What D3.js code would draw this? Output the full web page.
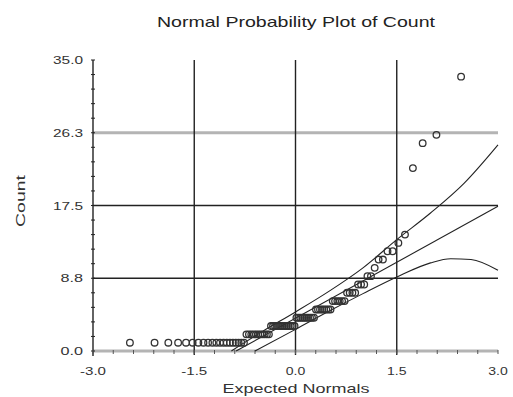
<!DOCTYPE html>
<html>
<head>
<meta charset="utf-8">
<script src="https://cdn.jsdelivr.net/npm/d3@7"></script>
<style>
  html, body { margin: 0; padding: 0; background: #fff; }
  svg { display: block; font-family: "Liberation Sans", Arial, sans-serif; }
</style>
</head>
<body>
<svg id="chart" width="513" height="397"></svg>
<script>
// Normal scores (expected normals) for the sorted sample, and the sorted counts
const expectedNormals = [-2.453,-2.088,-1.884,-1.739,-1.622,-1.524,-1.439,-1.363,-1.295,-1.231,
  -1.173,-1.118,-1.066,-1.018,-0.971,-0.927,-0.884,-0.843,-0.803,-0.764,
  -0.727,-0.690,-0.655,-0.620,-0.586,-0.552,-0.519,-0.487,-0.456,-0.424,
  -0.394,-0.363,-0.333,-0.303,-0.274,-0.244,-0.215,-0.186,-0.157,-0.128,
  -0.100,-0.071,-0.043,-0.014,0.014,0.043,0.071,0.100,0.128,0.157,
  0.186,0.215,0.244,0.274,0.303,0.333,0.363,0.394,0.424,0.456,
  0.487,0.519,0.552,0.586,0.620,0.655,0.690,0.727,0.764,0.803,
  0.843,0.884,0.927,0.971,1.018,1.066,1.118,1.173,1.231,1.295,
  1.363,1.439,1.524,1.622,1.739,1.884,2.088,2.453];
const counts = [1,1,1,1,1,1,1,1,1,1,1,1,1,1,1,1,1,1,1,1,
  2,2,2,2,2,2,2,2,2,2,2,
  3,3,3,3,3,3,3,3,3,3,3,3,3,
  4,4,4,4,4,4,4,4,4,4,
  5,5,5,5,5,5,5,5,
  6,6,6,6,6,6,
  7,7,7,7,
  8,8,8,
  9,9,10,11,11,12,12,13,14,
  22,25,26,33];

// Fitted line and its confidence limits: [expected normal, count]
const fitLine   = [[-0.88, 0], [3.0, 17.4]];
const upperBand = [[-0.95, 0], [-0.5, 2.3], [0, 4.7], [0.5, 7.2], [1.0, 10.0], [1.5, 13.4], [2.0, 16.6], [2.5, 20.2], [3.0, 24.8]];
const lowerBand = [[-0.6, 0], [0, 2.6], [0.5, 4.8], [1.0, 6.9], [1.5, 8.9], [2.0, 10.6], [2.3, 11.1], [2.6, 11.0], [3.0, 9.7]];

// Axis ticks
const xTicks = [-3.0, -1.5, 0.0, 1.5, 3.0];
const xTickLabels = ["-3.0", "-1.5", "0.0", "1.5", "3.0"];
const yTicks = [0, 8.75, 17.5, 26.25, 35];
const yTickLabels = ["0.0", "8.8", "17.5", "26.3", "35.0"];

const svg = d3.select("#chart");
const x = d3.scaleLinear().domain([-3, 3]).range([93, 498]);
const y = d3.scaleLinear().domain([0, 35]).range([351, 60]);
const ink = "#222";

// Reference lines: light band at 26.3 and along the zero baseline
svg.append("line").attr("x1", x(-3)).attr("x2", x(3)).attr("y1", y(26.25)).attr("y2", y(26.25))
  .attr("stroke", "#b4b4b4").attr("stroke-width", 3);
svg.append("line").attr("x1", x(-3)).attr("x2", x(3)).attr("y1", y(0)).attr("y2", y(0))
  .attr("stroke", "#b4b4b4").attr("stroke-width", 3);

// Dark grid lines
svg.selectAll("line.hgrid").data([8.75, 17.5]).join("line").attr("class", "hgrid")
  .attr("x1", x(-3)).attr("x2", x(3)).attr("y1", d => y(d)).attr("y2", d => y(d))
  .attr("stroke", ink).attr("stroke-width", 1.4);
svg.selectAll("line.vgrid").data([-1.5, 0, 1.5]).join("line").attr("class", "vgrid")
  .attr("x1", d => x(d)).attr("x2", d => x(d)).attr("y1", y(35)).attr("y2", y(0) + 4)
  .attr("stroke", ink).attr("stroke-width", 1.4);

// Y axis with minor ticks every 1.75
svg.append("line").attr("x1", x(-3)).attr("x2", x(-3)).attr("y1", y(35)).attr("y2", y(0) + 5)
  .attr("stroke", ink).attr("stroke-width", 1.4);
svg.selectAll("line.ytick").data(d3.range(0, 35.01, 1.75)).join("line").attr("class", "ytick")
  .attr("x1", x(-3) - 2).attr("x2", x(-3) + 2).attr("y1", d => y(d)).attr("y2", d => y(d))
  .attr("stroke", ink).attr("stroke-width", 1);
// X axis minor ticks every 0.3
svg.selectAll("line.xtick").data(d3.range(-3, 3.001, 0.3)).join("line").attr("class", "xtick")
  .attr("x1", d => x(d)).attr("x2", d => x(d)).attr("y1", y(0) - 1).attr("y2", y(0) + 3)
  .attr("stroke", "#555").attr("stroke-width", 1);

// Tick labels
svg.selectAll("text.ylab").data(yTicks).join("text").attr("class", "ylab")
  .attr("x", 83).attr("y", d => y(d) + 4).attr("text-anchor", "end")
  .attr("font-size", 11).attr("fill", "#333")
  .attr("textLength", (d, i) => yTickLabels[i].length * 7.5).attr("lengthAdjust", "spacingAndGlyphs")
  .text((d, i) => yTickLabels[i]);
svg.selectAll("text.xlab").data(xTicks).join("text").attr("class", "xlab")
  .attr("x", d => x(d)).attr("y", 375).attr("text-anchor", "middle")
  .attr("font-size", 11).attr("fill", "#333")
  .attr("textLength", (d, i) => xTickLabels[i].length * 6.5).attr("lengthAdjust", "spacingAndGlyphs")
  .text((d, i) => xTickLabels[i]);

// Titles
svg.append("text").attr("x", 296).attr("y", 27).attr("text-anchor", "middle")
  .attr("font-size", 15).attr("fill", "#222")
  .attr("textLength", 278).attr("lengthAdjust", "spacingAndGlyphs")
  .text("Normal Probability Plot of Count");
svg.append("text").attr("x", 296).attr("y", 393).attr("text-anchor", "middle")
  .attr("font-size", 13).attr("fill", "#333")
  .attr("textLength", 147).attr("lengthAdjust", "spacingAndGlyphs")
  .text("Expected Normals");
svg.append("text").attr("transform", "translate(25,201) rotate(-90)").attr("text-anchor", "middle")
  .attr("font-size", 13).attr("fill", "#333")
  .attr("textLength", 52).attr("lengthAdjust", "spacingAndGlyphs")
  .text("Count");

// Fitted line and confidence limits
const line = d3.line().x(d => x(d[0])).y(d => y(d[1])).curve(d3.curveMonotoneX);
[fitLine, upperBand, lowerBand].forEach(pts => {
  svg.append("path").attr("d", line(pts)).attr("fill", "none")
    .attr("stroke", ink).attr("stroke-width", 1.1);
});

// Data points
svg.selectAll("circle.pt").data(counts).join("circle").attr("class", "pt")
  .attr("cx", (d, i) => x(expectedNormals[i])).attr("cy", d => y(d)).attr("r", 3.3)
  .attr("fill", "none").attr("stroke", "#333").attr("stroke-width", 1.3);
</script>
</body>
</html>
